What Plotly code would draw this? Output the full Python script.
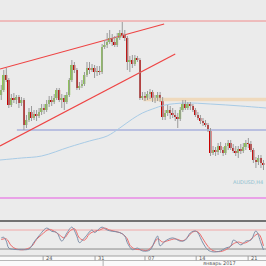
import plotly.graph_objects as go

# ---------------- data ----------------
opens = [0.7410,0.7420,0.7450,0.7440,0.7390,0.7404,0.7400,0.7406,0.7394,0.7400,
         0.7350,0.7360,0.7376,0.7364,0.7372,0.7368,0.7376,0.7384,0.7380,0.7392,
         0.7400,0.7396,0.7404,0.7420,0.7400,0.7404,0.7396,0.7410,0.7440,0.7470,
         0.7460,0.7424,0.7428,0.7432,0.7450,0.7464,0.7460,0.7464,0.7456,0.7458,
         0.7456,0.7506,0.7510,0.7516,0.7524,0.7516,0.7510,0.7524,0.7534,0.7530,
         0.7524,0.7476,0.7480,0.7472,0.7484,0.7480,0.7404,0.7408,0.7404,0.7412,
         0.7416,0.7404,0.7402,0.7410,0.7402,0.7366,0.7374,0.7380,0.7374,0.7370,
         0.7366,0.7362,0.7380,0.7392,0.7384,0.7392,0.7388,0.7380,0.7370,0.7364,
         0.7358,0.7354,0.7350,0.7340,0.7294,0.7300,0.7296,0.7308,0.7300,0.7294,
         0.7308,0.7314,0.7304,0.7298,0.7294,0.7302,0.7298,0.7306,0.7314,0.7312,
         0.7300,0.7280,0.7276,0.7284,0.7274]
highs = [0.7430,0.7460,0.7464,0.7444,0.7412,0.7414,0.7410,0.7410,0.7406,0.7404,
         0.7370,0.7384,0.7388,0.7380,0.7380,0.7384,0.7392,0.7392,0.7400,0.7408,
         0.7408,0.7412,0.7424,0.7424,0.7412,0.7410,0.7416,0.7444,0.7480,0.7476,
         0.7464,0.7436,0.7440,0.7456,0.7476,0.7476,0.7472,0.7470,0.7468,0.7468,
         0.7512,0.7520,0.7534,0.7540,0.7532,0.7528,0.7534,0.7540,0.7556,0.7540,
         0.7528,0.7488,0.7490,0.7490,0.7488,0.7484,0.7416,0.7416,0.7418,0.7422,
         0.7420,0.7410,0.7416,0.7416,0.7406,0.7380,0.7390,0.7388,0.7384,0.7380,
         0.7374,0.7386,0.7400,0.7400,0.7396,0.7396,0.7392,0.7384,0.7376,0.7370,
         0.7364,0.7360,0.7354,0.7344,0.7308,0.7306,0.7314,0.7316,0.7306,0.7314,
         0.7320,0.7320,0.7312,0.7308,0.7308,0.7312,0.7314,0.7320,0.7324,0.7318,
         0.7304,0.7286,0.7290,0.7290,0.7280]
lows = [0.7400,0.7416,0.7436,0.7384,0.7386,0.7394,0.7392,0.7384,0.7388,0.7340,
        0.7344,0.7356,0.7358,0.7360,0.7358,0.7364,0.7370,0.7372,0.7376,0.7386,
        0.7388,0.7392,0.7400,0.7396,0.7384,0.7380,0.7392,0.7406,0.7436,0.7454,
        0.7420,0.7420,0.7424,0.7428,0.7446,0.7452,0.7456,0.7444,0.7448,0.7450,
        0.7452,0.7502,0.7504,0.7512,0.7508,0.7506,0.7506,0.7520,0.7524,0.7518,
        0.7460,0.7456,0.7464,0.7468,0.7476,0.7400,0.7400,0.7398,0.7400,0.7402,
        0.7396,0.7394,0.7398,0.7396,0.7360,0.7360,0.7368,0.7362,0.7364,0.7358,
        0.7344,0.7358,0.7376,0.7380,0.7380,0.7380,0.7376,0.7366,0.7360,0.7352,
        0.7348,0.7346,0.7336,0.7288,0.7290,0.7288,0.7290,0.7294,0.7288,0.7290,
        0.7300,0.7300,0.7294,0.7288,0.7284,0.7292,0.7294,0.7300,0.7304,0.7296,
        0.7274,0.7264,0.7270,0.7264,0.7260]
closes = [0.7420,0.7450,0.7440,0.7390,0.7404,0.7400,0.7406,0.7394,0.7400,0.7350,
          0.7360,0.7376,0.7364,0.7372,0.7368,0.7376,0.7384,0.7380,0.7392,0.7400,
          0.7396,0.7404,0.7420,0.7400,0.7404,0.7396,0.7410,0.7440,0.7470,0.7460,
          0.7424,0.7428,0.7432,0.7450,0.7464,0.7460,0.7464,0.7456,0.7458,0.7456,
          0.7506,0.7510,0.7516,0.7524,0.7516,0.7510,0.7524,0.7534,0.7530,0.7524,
          0.7476,0.7480,0.7472,0.7484,0.7480,0.7404,0.7408,0.7404,0.7412,0.7416,
          0.7404,0.7402,0.7410,0.7402,0.7366,0.7374,0.7380,0.7374,0.7370,0.7366,
          0.7362,0.7380,0.7392,0.7384,0.7392,0.7388,0.7380,0.7370,0.7364,0.7358,
          0.7354,0.7350,0.7340,0.7294,0.7300,0.7296,0.7308,0.7300,0.7294,0.7308,
          0.7314,0.7304,0.7298,0.7294,0.7302,0.7298,0.7306,0.7314,0.7312,0.7300,
          0.7280,0.7276,0.7284,0.7274,0.7270]

ma_idx = [-0.5, 8, 16, 27, 35, 42, 47, 52, 56, 60, 65, 73, 83, 95, 105]
ma_val = [0.7280, 0.7284, 0.7288, 0.7306, 0.7318, 0.7328, 0.7344, 0.7362, 0.7374, 0.7382,
          0.7390, 0.7394, 0.7392, 0.7388, 0.7384]

# trend / level lines (x index, price)
top_line_x = [-0.5, 105.5]; top_line_y = [0.7558, 0.7558]
up_chan_x = [-0.5, 64.6];  up_chan_y = [0.7462, 0.7552]
lo_chan_x = [-0.5, 69.0];  lo_chan_y = [0.7308, 0.7492]
blue_lvl_x = [6.2, 105.5]; blue_lvl_y = [0.7340, 0.7340]
tan_lvl_x = [56.3, 105.5]; tan_lvl_y = [0.7401, 0.7401]
pink_lvl_x = [-0.5, 105.5]; pink_lvl_y = [0.7204, 0.7204]

k_idx = [0,1,2,3,5,8,11,13,15,18,20,22,24,26,28,30,31,33,36,37,39,40,42,44,47,49,50,52,54,56,
         59,61,62,63,65,68,71,73,75,77,78,80,82,84,87,89,91,92,93,95,97,99,101,103,104]
k_val = [55,57,45,23,19,18,20,42,62,86,76,72,45,70,89,60,40,55,80,72,85,89,80,76,72,61,40,18,23,14,
         17,48,61,30,45,55,45,48,71,77,71,39,17,11,14,23,29,48,45,33,45,48,77,39,17]
d_idx = [0,2,4,6,9,12,14,16,19,21,23,25,27,29,31,33,35,37,39,41,43,46,48,50,51,53,55,58,60,62,
         64,66,69,72,74,76,78,80,82,84,87,90,92,94,96,98,100,102,104]
d_val = [50,52,30,20,18,28,50,65,82,76,65,55,75,84,55,48,68,76,80,86,80,74,68,52,32,20,18,16,30,52,
         42,46,52,46,58,74,74,52,28,15,12,22,36,42,38,44,58,68,30]

tick_pos = [16.6, 37.2, 57.0, 77.3, 97.9]
tick_lbl = ["24", "31", "07", "14", "21"]
month_div = 40.4
month_lbl = "январь 2017"

# ---------------- figure ----------------
N = len(closes)
xs = list(range(N))
W = H = 266
def py(p):  # pixel -> paper y
    return 1 - p / H

fig = go.Figure()

def line(x, y, color, width, xa="x", ya="y", shape="linear"):
    fig.add_trace(go.Scatter(x=x, y=y, mode="lines", xaxis=xa, yaxis=ya,
                             line=dict(color=color, width=width, shape=shape),
                             hoverinfo="skip", showlegend=False))

line(tan_lvl_x, tan_lvl_y, "#efd9bc", 3.5)
line(blue_lvl_x, blue_lvl_y, "#b9bfe0", 2)
line(pink_lvl_x, pink_lvl_y, "#e88ae6", 1.5)
line(ma_idx, ma_val, "#a8cbe6", 1, shape="spline")
line(top_line_x, top_line_y, "#f08c8c", 1)
line(up_chan_x, up_chan_y, "#ee4444", 1.2)
line(lo_chan_x, lo_chan_y, "#ee4444", 1.2)

# wicks
wx, wy = [], []
for i in xs:
    wx += [i, i, None]
    wy += [lows[i], highs[i], None]
fig.add_trace(go.Scatter(x=wx, y=wy, mode="lines", line=dict(color="#9a9a9a", width=1),
                         hoverinfo="skip", showlegend=False))
# bodies
body = []
cols = []
for o, c in zip(opens, closes):
    d = c - o
    if abs(d) < 0.00008:
        d = 0.00008 if d >= 0 else -0.00008
    body.append(d)
    cols.append("#8cc850" if c >= o else "#c80000")
fig.add_trace(go.Bar(x=xs, y=body, base=opens, marker=dict(color=cols, line=dict(width=0)),
                     width=0.7, hoverinfo="skip", showlegend=False))

fig.add_annotation(x=104.6, y=0.7236, text="AUDUSD,H4", showarrow=False, xanchor="right",
                   font=dict(size=5, color="#8fbfd0", family="DejaVu Sans"))

# stochastic
line([-0.5, 105.5], [80, 80], "#f2a8a8", 1, "x2", "y2")
line([-0.5, 105.5], [20, 20], "#8a8a8a", 1, "x2", "y2")
line(d_idx, d_val, "#ec6a6a", 1, "x2", "y2", shape="spline")
line(k_idx, k_val, "#7d8ea8", 1, "x2", "y2", shape="spline")

xr = [-0.5, 105.0]
fig.update_layout(
    width=W, height=H, margin=dict(l=0, r=0, t=0, b=0),
    paper_bgcolor="#ebebeb", plot_bgcolor="#ebebeb",
    barmode="overlay", showlegend=False,
    xaxis=dict(range=xr, visible=False, anchor="y", domain=[0, 1]),
    yaxis=dict(range=[0.7158, 0.7600], visible=False, domain=[py(221), 1]),
    xaxis2=dict(range=xr, visible=False, anchor="y2", domain=[0, 1]),
    yaxis2=dict(range=[-2, 106.8], visible=False, domain=[py(256), py(221.5)]),
)

shapes = []
shapes.append(dict(type="line", xref="paper", yref="paper", x0=0, x1=1, y0=py(221), y1=py(221),
                   line=dict(color="#4a4a4a", width=1.5)))
shapes.append(dict(type="rect", xref="paper", yref="paper", x0=0, x1=1, y0=0, y1=py(256),
                   fillcolor="#fafafa", line=dict(width=0)))
shapes.append(dict(type="line", xref="paper", yref="paper", x0=0, x1=1, y0=py(256), y1=py(256),
                   line=dict(color="#a0a0a0", width=1)))
shapes.append(dict(type="line", xref="paper", yref="paper", x0=0, x1=1, y0=py(260.5), y1=py(260.5),
                   line=dict(color="#b8b8b8", width=1)))
for t in tick_pos:
    shapes.append(dict(type="line", xref="x2", yref="paper", x0=t, x1=t, y0=py(260.5), y1=py(256),
                       line=dict(color="#a0a0a0", width=1)))
shapes.append(dict(type="line", xref="x2", yref="paper", x0=month_div, x1=month_div, y0=0, y1=py(260.5),
                   line=dict(color="#b0b0b0", width=1)))
fig.update_layout(shapes=shapes)

for t, s in zip(tick_pos, tick_lbl):
    fig.add_annotation(x=t + 0.3, y=py(258.3), xref="x2", yref="paper", text=s, showarrow=False,
                       xanchor="left", yanchor="middle", font=dict(size=5, color="#555", family="DejaVu Sans"))
fig.add_annotation(x=86.5, y=py(263.3), xref="x2", yref="paper", text=month_lbl, showarrow=False,
                   xanchor="center", yanchor="middle", font=dict(size=5, color="#555", family="DejaVu Sans"))

fig.write_html("out.html")
